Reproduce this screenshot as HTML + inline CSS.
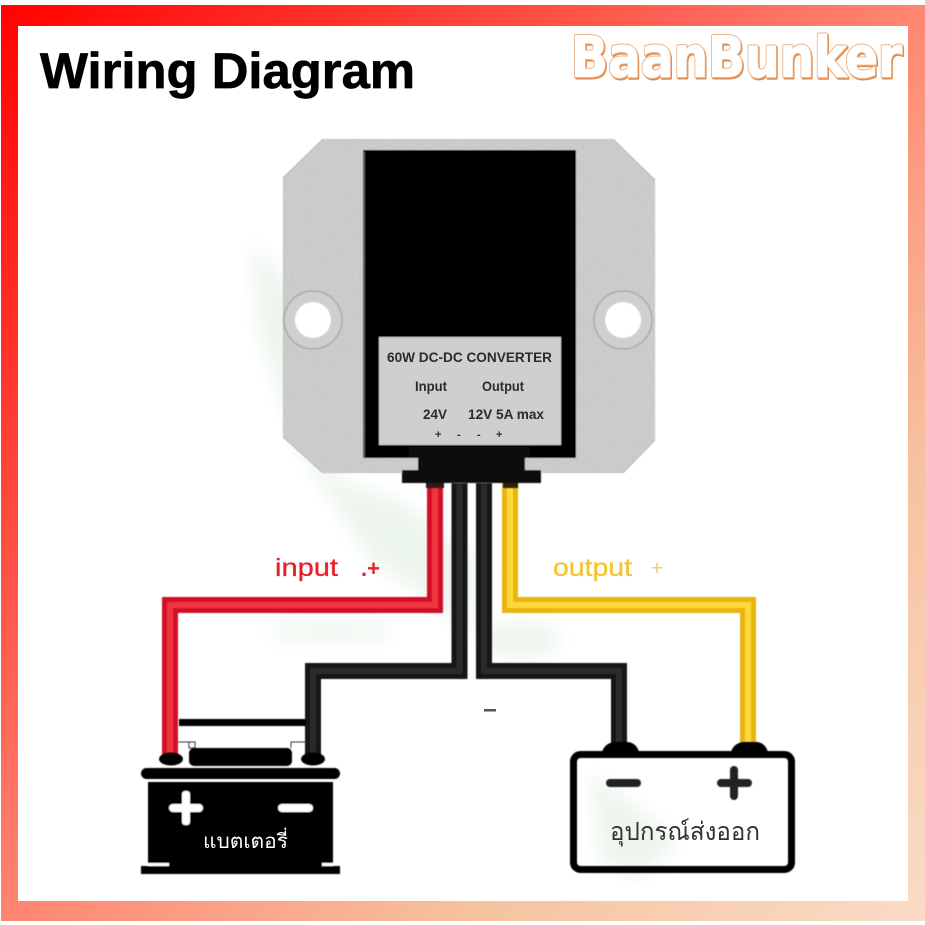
<!DOCTYPE html>
<html><head><meta charset="utf-8"><style>html,body{margin:0;padding:0;background:#fff}svg{display:block}</style></head>
<body>
<svg xmlns="http://www.w3.org/2000/svg" width="925" height="925" viewBox="0 0 925 925">
<defs>
<linearGradient id="fr" gradientUnits="userSpaceOnUse" x1="0" y1="0" x2="925" y2="925">
<stop offset="0" stop-color="#ff0000"/><stop offset=".24" stop-color="#ff3f35"/><stop offset=".5" stop-color="#ff8672"/><stop offset=".75" stop-color="#f6c3a0"/><stop offset="1" stop-color="#fadcc8"/>
</linearGradient>
<filter id="bl" x="-30%" y="-30%" width="160%" height="160%"><feGaussianBlur stdDeviation="9"/></filter>
<filter id="sb" x="-5%" y="-5%" width="110%" height="110%"><feGaussianBlur stdDeviation=".5"/></filter>
<filter id="noise" x="0" y="0" width="100%" height="100%"><feTurbulence type="fractalNoise" baseFrequency=".4" numOctaves="2" seed="4"/><feColorMatrix values="0 0 0 0 .55  0 0 0 0 .55  0 0 0 0 .55  1.600 0 0 0 -.6" result="n"/><feComposite in="n" in2="SourceGraphic" operator="in" result="c"/><feMerge><feMergeNode in="SourceGraphic"/><feMergeNode in="c"/></feMerge></filter>
</defs>
<rect width="925" height="925" fill="#fff"/>
<rect x="1" y="5" width="924" height="916" fill="url(#fr)"/>
<rect x="18" y="26" width="890" height="875" fill="#fff"/>

<!-- faint watermark -->
<g fill="#edf6ee" filter="url(#bl)">
<path d="M250 240L300 300L340 480L400 500L480 560L470 640L430 600L370 560L300 450L260 340Z"/>
<ellipse cx="330" cy="632" rx="65" ry="9"/>
<ellipse cx="520" cy="640" rx="40" ry="18"/>
<path d="M590 770L680 840L640 880L600 860Z"/>
</g>

<!-- wires -->
<g fill="none" stroke-linejoin="miter" filter="url(#sb)">
<path d="M170 755V605H435V483" stroke="#d20f28" stroke-width="16"/>
<path d="M170 755V605H435V483" stroke="#f0363c" stroke-width="6"/>
<path d="M510 483V605H748V745" stroke="#e9b50a" stroke-width="16"/>
<path d="M510 483V605H748V745" stroke="#ffd83a" stroke-width="6"/>
<path d="M313 755V671H459.500V483" stroke="#141414" stroke-width="16"/>
<path d="M313 755V671H459.500V483" stroke="#2a2a2a" stroke-width="6"/>
<path d="M619 745V671H484V483" stroke="#141414" stroke-width="16"/>
<path d="M619 745V671H484V483" stroke="#2a2a2a" stroke-width="6"/>
</g>

<!-- converter -->
<g filter="url(#sb)">
<path d="M323 139H613L655 180V440L623 473H323L283 437V178Z" fill="#cdcdcd" stroke="#b5b5b5" filter="url(#noise)"/>
<circle cx="313" cy="320" r="29" fill="#cfcfcf" stroke="#a8a8a8" stroke-width="1.500"/>
<circle cx="313" cy="320" r="18" fill="#fff"/>
<circle cx="623" cy="320" r="29" fill="#cfcfcf" stroke="#a8a8a8" stroke-width="1.500"/>
<circle cx="623" cy="320" r="18" fill="#fff"/>
<rect x="363" y="150" width="213" height="308" fill="#050505"/>
<rect x="363" y="152" width="2" height="306" fill="#555"/>
<path d="M409 447H530V458H525V470H541V483H402V470H418V458H409Z" fill="#0a0a0a"/>
<rect x="379" y="337" width="182" height="108" fill="#cfcfcf"/>
<rect x="426" y="483" width="18" height="5" fill="#2a1a1a"/>
<rect x="503" y="483" width="15" height="5" fill="#2a2410"/>
</g>
<g font-family="'Liberation Sans',sans-serif" font-weight="700" fill="#2b2b2b" font-size="13.500">
<text x="387" y="362" textLength="165" lengthAdjust="spacingAndGlyphs">60W DC-DC CONVERTER</text>
<text x="415" y="391" textLength="32" lengthAdjust="spacingAndGlyphs">Input</text>
<text x="482" y="391" textLength="42" lengthAdjust="spacingAndGlyphs">Output</text>
<text x="423" y="419" textLength="24" lengthAdjust="spacingAndGlyphs">24V</text>
<text x="468" y="419" textLength="76" lengthAdjust="spacingAndGlyphs">12V 5A max</text>
<text x="435" y="438" font-size="11">+</text>
<text x="457" y="438" font-size="11">-</text>
<text x="477" y="438" font-size="11">-</text>
<text x="496" y="438" font-size="11">+</text>
</g>

<!-- left battery -->
<g fill="#000" filter="url(#sb)">
<rect x="179" y="719" width="127" height="7"/>
<path d="M178 742H195V748H189V742Z" fill="none" stroke="#333" stroke-width="1"/>
<path d="M291 748V742H306" fill="none" stroke="#333" stroke-width="1"/>
<rect x="189" y="748" width="103" height="18" rx="5"/>
<ellipse cx="171" cy="759" rx="12" ry="6.500"/>
<ellipse cx="313" cy="759" rx="12" ry="6.500"/>
<rect x="141" y="768" width="199" height="11" rx="5.500"/>
<rect x="148" y="782" width="185" height="84"/>
<rect x="141" y="866" width="199" height="8"/>
<rect x="148" y="863" width="21" height="3" fill="#fff"/>
<rect x="322" y="863" width="11" height="3" fill="#fff"/>
<g fill="#fff">
<rect x="169" y="804" width="34" height="8" rx="4"/>
<rect x="182" y="791" width="8" height="34" rx="3"/>
<rect x="278" y="804" width="35" height="8" rx="4"/>
</g>
</g>
<text x="203" y="848" fill="#fff" font-size="20" font-family="'Liberation Sans','DejaVu Sans','Noto Sans CJK SC',sans-serif" textLength="85" lengthAdjust="spacingAndGlyphs">แบตเตอรี่</text>

<!-- right device -->
<g filter="url(#sb)">
<rect x="573.500" y="754.500" width="218" height="115" rx="7" fill="none" stroke="#000" stroke-width="7"/>
<path d="M602 752C604 745 610 742 615 742H627C632 742 637 745 639 752Z" fill="#000"/>
<path d="M731 752C733 745 739 742 744 742H756C761 742 766 745 768 752Z" fill="#000"/>
<rect x="606" y="779" width="35" height="8" rx="4" fill="#222"/>
<rect x="717" y="779" width="35" height="8" rx="4" fill="#222"/>
<rect x="730" y="766" width="8" height="34" rx="4" fill="#222"/>
</g>
<text x="610" y="840" fill="#333" font-size="25" font-family="'Liberation Sans','DejaVu Sans','Noto Sans CJK SC',sans-serif" textLength="150" lengthAdjust="spacingAndGlyphs">อุปกรณ์ส่งออก</text>

<!-- labels -->
<g font-family="'Liberation Sans',sans-serif" font-size="25">
<text x="275" y="576" fill="#e8202a" stroke="#e8202a" stroke-width=".3" textLength="63" lengthAdjust="spacingAndGlyphs">input</text>
<text x="361" y="576" fill="#e8202a" font-size="22" font-weight="700">.+</text>
<text x="553" y="576" fill="#f6c432" stroke="#f6c432" stroke-width=".3" textLength="79" lengthAdjust="spacingAndGlyphs">output</text>
<text x="651" y="575" fill="#f6cf6a" font-size="21">+</text>
</g>
<rect x="484" y="709" width="12" height="2.500" fill="#555"/>

<!-- title -->
<text x="40" y="88" font-family="'Liberation Sans',sans-serif" font-weight="700" font-size="50" fill="#000" stroke="#000" stroke-width=".7" textLength="375" lengthAdjust="spacingAndGlyphs">Wiring Diagram</text>

<!-- logo -->
<g font-family="'DejaVu Sans','Liberation Sans',sans-serif" font-weight="700" font-size="56" stroke-linejoin="round">
<text x="572" y="78" fill="#e58a48" stroke="#e58a48" stroke-width="3" textLength="331" lengthAdjust="spacingAndGlyphs">BaanBunker</text>
<text x="571" y="76.500" fill="#fff" stroke="#eab48c" stroke-width="3" paint-order="stroke" textLength="331" lengthAdjust="spacingAndGlyphs">BaanBunker</text>
<text x="571" y="76.500" fill="#fff" stroke="#fff" stroke-width="1" textLength="331" lengthAdjust="spacingAndGlyphs">BaanBunker</text>
</g>
</svg>
</body></html>
